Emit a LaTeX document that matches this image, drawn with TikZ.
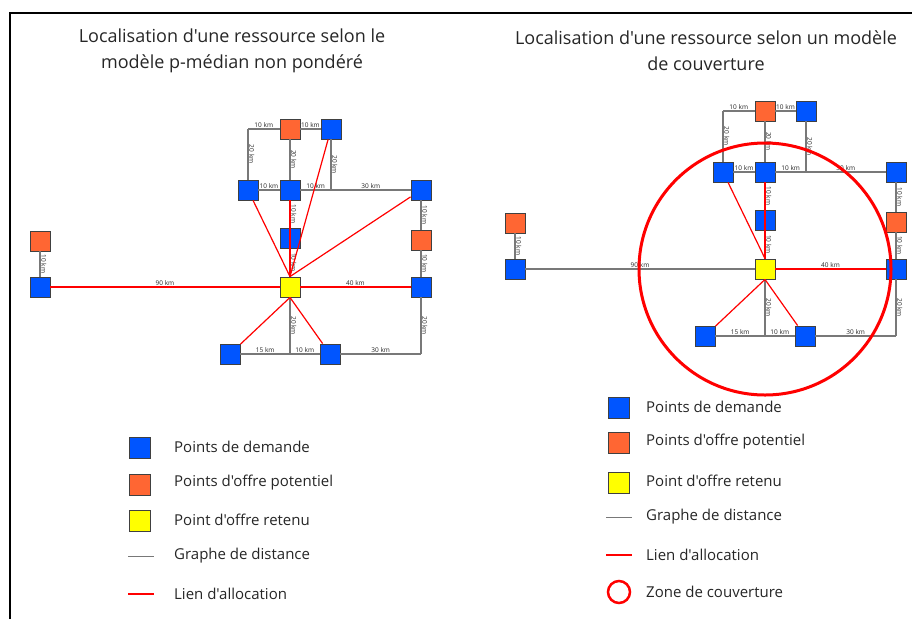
\documentclass[tikz,border=0pt]{standalone}
\usepackage{fontspec}
\setmainfont{Open Sans}[Ligatures=TeXOff]
\usetikzlibrary{positioning}
\definecolor{bleu}{RGB}{0,85,255}
\definecolor{orangeo}{RGB}{255,102,51}
\definecolor{jaune}{RGB}{255,255,0}
\definecolor{rouge}{RGB}{255,0,0}
\definecolor{gris}{RGB}{120,120,120}

\begin{document}
\begin{tikzpicture}[x=1pt, y=-1pt, every node/.style={text=black!85},
  carre/.style={draw=black!75, line width=0.9pt, minimum size=20pt, inner sep=0pt},
  demande/.style={carre, fill=bleu},
  offre/.style={carre, fill=orangeo},
  retenu/.style={carre, fill=jaune},
  graphe/.style={draw=gris, line width=1.1pt},
  alloc/.style={draw=rouge, line width=1.2pt},
  km/.style={midway, sloped, above, font=\fontsize{6.5}{7}\selectfont, inner sep=0.8pt},
  titre/.style={align=center, font=\fontsize{18}{26}\selectfont},
  legende/.style={anchor=west, inner sep=0pt, font=\fontsize{15}{18}\selectfont}]
\useasboundingbox (0,0) rectangle (912,619);
\draw[line width=1.6pt] (10,619) -- (10,13) -- (912,13);

\node[titre] (titre1) at (232,51) {Localisation d'une ressource selon le\\modèle p-médian non pondéré};
\node[titre] (titre2) at (706,51) {Localisation d'une ressource selon un modèle\\de couverture};

% meme reseau dans les deux cadres
\foreach \p/\dx/\dy in {g/0/0, d/475/-18} {
\begin{scope}[shift={(\dx,\dy)}]
\node[offre] (\p-o1) at (290,129) {};
\node[demande] (\p-d1) at (331,129) {};
\node[demande] (\p-d2) at (248,190) {};
\node[demande] (\p-d3) at (290,190) {};
\node[demande] (\p-d4) at (421,190) {};
\node[demande] (\p-d5) at (290,238) {};
\node[offre] (\p-o2) at (421,240) {};
\node[offre] (\p-o3) at (40,241) {};
\node[demande] (\p-d6) at (40,287) {};
\node[retenu] (\p-r) at (290,287) {};
\node[demande] (\p-d7) at (421,287) {};
\node[demande] (\p-d8) at (230,354) {};
\node[demande] (\p-d9) at (330,354) {};
\coordinate (\p-c1) at (248,129);
\coordinate (\p-c2) at (331,190);
\coordinate (\p-c3) at (421,354);
\coordinate (\p-c4) at (290,354);

\draw[graphe] (\p-c1) -- node[km] {10 km} (\p-o1);
\draw[graphe] (\p-c1) -- node[km] {20 km} (\p-d2);
\draw[graphe] (\p-o1) -- node[km] {10 km} (\p-d1);
\draw[graphe] (\p-o1) -- node[km] {20 km} (\p-d3);
\draw[graphe] (\p-d1) -- node[km] {20 km} (\p-c2);
\draw[graphe] (\p-d2) -- node[km] {10 km} (\p-d3);
\draw[graphe] (\p-d3) -- node[km] {10 km} (\p-c2);
\draw[graphe] (\p-c2) -- node[km] {30 km} (\p-d4);
\draw[graphe] (\p-d3) -- node[km] {10 km} (\p-d5);
\draw[graphe] (\p-d5) -- node[km] {10 km} (\p-r);
\draw[graphe] (\p-d4) -- node[km] {10 km} (\p-o2);
\draw[graphe] (\p-o2) -- node[km] {10 km} (\p-d7);
\draw[graphe] (\p-o3) -- node[km] {10 km} (\p-d6);
\draw[graphe] (\p-d6) -- node[km] {90 km} (\p-r);
\draw[graphe] (\p-r) -- node[km] {40 km} (\p-d7);
\draw[graphe] (\p-d7) -- node[km] {20 km} (\p-c3);
\draw[graphe] (\p-d9) -- node[km] {30 km} (\p-c3);
\draw[graphe] (\p-r) -- node[km] {20 km} (\p-c4);
\draw[graphe] (\p-d8) -- node[km] {15 km} (\p-c4);
\draw[graphe] (\p-c4) -- node[km] {10 km} (\p-d9);
\end{scope}
}

% liens d'allocation
\draw[alloc] (g-d1) -- (g-r.north);
\draw[alloc] (g-d2) -- (g-r.north);
\draw[alloc] (g-d3) -- (g-r.north);
\draw[alloc] (g-d4) -- (g-r.north);
\draw[alloc] (g-d6) -- (g-r.west);
\draw[alloc] (g-r.east) -- (g-d7);
\draw[alloc] (g-d8) -- (g-r.south);
\draw[alloc] (g-d9) -- (g-r.south);
\draw[alloc] (d-d2) -- (d-r.north);
\draw[alloc] (d-d3) -- (d-r.north);
\draw[alloc] (d-r.east) -- (d-d7);
\draw[alloc] (d-d8) -- (d-r.south);
\draw[alloc] (d-d9) -- (d-r.south);

% zone de couverture
\draw[rouge, line width=3pt] (d-r.center) circle[radius=126];

% legendes
\node[demande, minimum size=21pt] (lgc1) at (140,448) {};
\node[offre, minimum size=21pt] (lgc2) at (140,485) {};
\node[retenu, minimum size=21pt] (lgc3) at (140,521) {};
\node[legende] (lg1) at (174,447) {Points de demande};
\node[legende] (lg2) at (174,483) {Points d'offre potentiel};
\node[legende] (lg3) at (174,520) {Point d'offre retenu};
\node[legende] (lg4) at (174,556) {Graphe de distance};
\node[legende] (lg5) at (174,594) {Lien d'allocation};
\draw[gris, line width=1pt] ([xshift=-46pt]lg4.west) -- ++(26,0);
\draw[rouge, line width=1.2pt] ([xshift=-46pt]lg5.west) -- ++(26,0);

\node[demande, minimum size=21pt] (ldc1) at (619,408) {};
\node[offre, minimum size=21pt] (ldc2) at (619,443) {};
\node[retenu, minimum size=21pt] (ldc3) at (619,483) {};
\node[legende] (ld1) at (646,407) {Points de demande};
\node[legende] (ld2) at (646,442) {Points d'offre potentiel};
\node[legende] (ld3) at (646,481) {Point d'offre retenu};
\node[legende] (ld4) at (646,517) {Graphe de distance};
\node[legende] (ld5) at (646,555) {Lien d'allocation};
\node[legende] (ld6) at (646,592) {Zone de couverture};
\draw[gris, line width=1pt] ([xshift=-40pt]ld4.west) -- ++(26,0);
\draw[rouge, line width=1.2pt] ([xshift=-40pt]ld5.west) -- ++(26,0);
\draw[rouge, line width=2.5pt] (619,592) circle[radius=11];
\end{tikzpicture}
\end{document}
